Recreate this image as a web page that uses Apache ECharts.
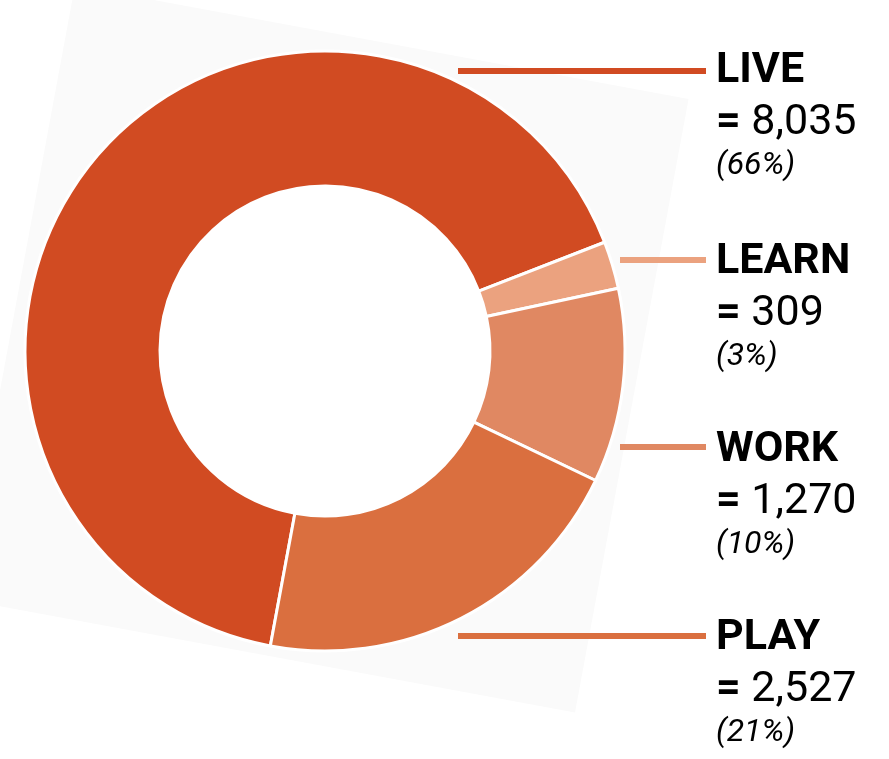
<!DOCTYPE html>
<html>
<head>
<meta charset="utf-8">
<script src="https://cdn.jsdelivr.net/npm/echarts@6/dist/echarts.min.js"></script>
<style>
html,body{margin:0;padding:0;background:#fff;}
#chart{width:889px;height:759px;}
</style>
</head>
<body>
<div id="chart"></div>
<script>
// Data
const categories = ['LIVE', 'LEARN', 'WORK', 'PLAY'];
const values = [8035, 309, 1270, 2527];
const colors = ['#D14B22', '#EBA27F', '#E08862', '#DA6F3F'];

// Layout constants (positions only)
const labelX = 716;
const labelTops = [44, 235, 423, 611];
const lineYs = [71, 260, 447, 636];
const lineStartX = [458, 620, 620, 458];
const lineEndX = 706;

const chart = echarts.init(document.getElementById('chart'), null, {renderer: 'canvas'});

const data = categories.map((c, i) => ({
  name: c,
  value: values[i],
  itemStyle: {color: colors[i]},
  labelLine: {lineStyle: {color: colors[i]}}
}));

chart.setOption({
  animation: false,
  backgroundColor: '#ffffff',
  graphic: [{
    type: 'rect',
    x: 325, y: 349,
    rotation: -0.183,
    shape: {x: -312, y: -312, width: 624, height: 624},
    style: {fill: '#FAFAFA'},
    z: -10,
    silent: true
  }, {
    type: 'circle',
    x: 325, y: 351,
    shape: {r: 166},
    style: {fill: '#FFFFFF'},
    z: -9,
    silent: true
  }],
  series: [{
    type: 'pie',
    center: [325, 351],
    radius: [165, 300],
    startAngle: 259.5,
    clockwise: true,
    percentPrecision: 0,
    avoidLabelOverlap: false,
    itemStyle: {borderColor: '#ffffff', borderWidth: 3},
    emphasis: {disabled: true},
    label: {
      show: true,
      position: 'outside',
      fontFamily: 'Roboto',
      color: '#000',
      formatter: function (p) {
        return '{name|' + p.name + '}\n{eq|=}{val| ' + p.value.toLocaleString('en-US') + '}\n{pct|(' + p.percent + '%)}';
      },
      rich: {
        name: {fontFamily: 'Roboto', fontWeight: 'bold', fontSize: 43, lineHeight: 54, color: '#000'},
        eq: {fontFamily: 'Roboto', fontWeight: 'bold', fontSize: 43, lineHeight: 51, color: '#000'},
        val: {fontFamily: 'Roboto', fontWeight: 'normal', fontSize: 43, lineHeight: 51, color: '#000'},
        pct: {fontFamily: 'Roboto', fontStyle: 'italic', fontSize: 32, lineHeight: 33, color: '#000'}
      }
    },
    labelLine: {show: true, length: 10, length2: 10, lineStyle: {width: 6, cap: 'butt'}},
    labelLayout: function (params) {
      const i = params.dataIndex;
      return {
        x: labelX,
        y: labelTops[i],
        align: 'left',
        verticalAlign: 'top',
        labelLinePoints: [[lineStartX[i], lineYs[i]], [(lineStartX[i] + lineEndX) / 2, lineYs[i]], [lineEndX, lineYs[i]]]
      };
    },
    data: data
  }]
});
</script>
</body>
</html>
